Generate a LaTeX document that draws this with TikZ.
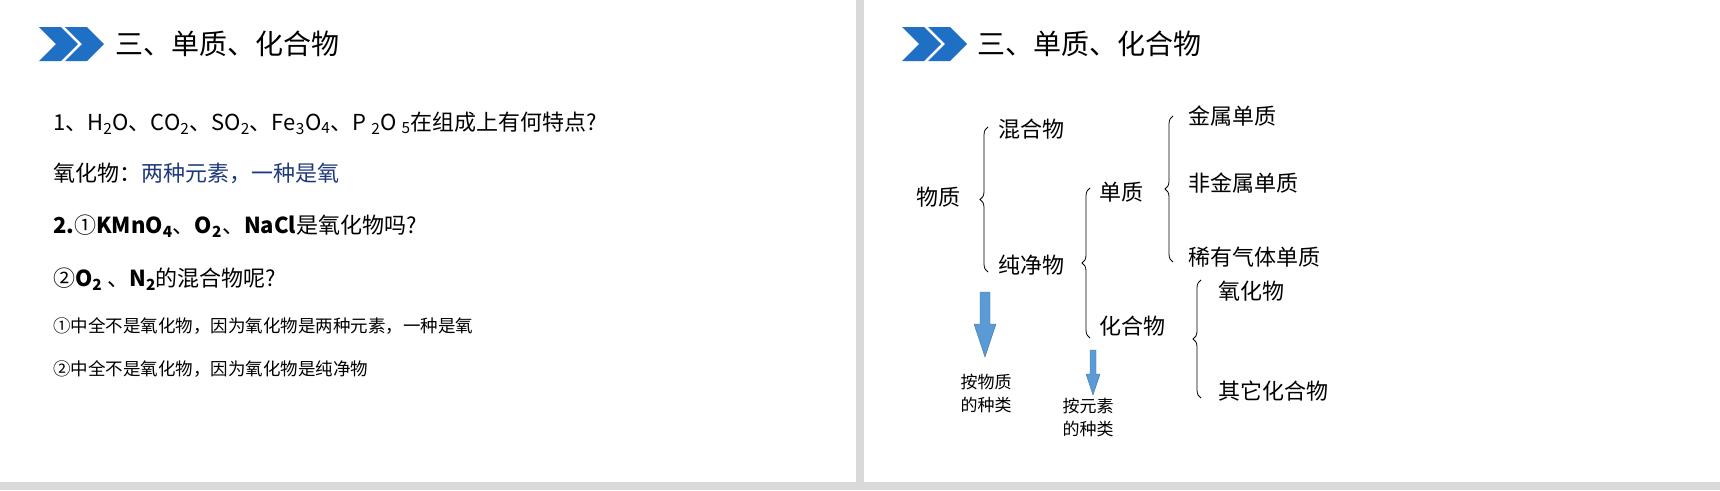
\documentclass[tikz,border=0pt]{standalone}
\usepackage{fontspec}
\setmainfont{Noto Sans CJK SC}
\usetikzlibrary{decorations.pathreplacing}
\definecolor{chev}{HTML}{1F6FC5}
\definecolor{arr}{HTML}{5B9BD5}
\definecolor{arrd}{HTML}{41719C}
\definecolor{navy}{HTML}{1F3A7A}
\tikzset{
 t/.style={anchor=west,inner sep=0pt,font=\fontsize{22}{24}\selectfont},
 ts/.style={anchor=west,inner sep=0pt,font=\fontsize{17.5}{19}\selectfont},
 ttl/.style={anchor=west,inner sep=0pt,font=\fontsize{28}{30}\selectfont},
 lab/.style={align=center,inner sep=0pt,font=\fontsize{17}{23}\selectfont},
 br/.style={draw,thick,decorate,decoration={brace,amplitude=8pt}},
 bar/.style={fill=arr,draw=arrd,thin}
}
\newcommand{\chevs}[2]{%
 \fill[chev] (#1,#2) -- ++(22,0) -- ++(17,17) -- ++(-17,17) -- ++(-22,0) -- ++(17,-17) -- cycle;
 \fill[chev] (#1+26,#2) -- ++(22,0) -- ++(17,17) -- ++(-17,17) -- ++(-22,0) -- ++(17,-17) -- cycle;}
\begin{document}
\begin{tikzpicture}[x=1pt,y=-1pt]
\fill[gray!30] (0,0) rectangle (1720,490);
\fill[white] (0,0) rectangle (856,482);
\fill[white] (864,0) rectangle (1720,482);
\useasboundingbox (0,0) rectangle (1720,490);
% left panel
\chevs{39}{27}
\node[ttl] (t1) at (115,44) {三、单质、化合物};
\node[t] (l1) at (53,123) {1、H\textsubscript{2}O、CO\textsubscript{2}、SO\textsubscript{2}、Fe\textsubscript{3}O\textsubscript{4}、P \textsubscript{2}O \textsubscript{5}在组成上有何特点?};
\node[t] (l2) at (53,173) {氧化物：\textcolor{navy}{两种元素，一种是氧}};
\node[t] (l3) at (53,226) {\textbf{2.}①\textbf{KMnO\textsubscript{4}}、\textbf{O\textsubscript{2}}、\textbf{NaCl}是氧化物吗?};
\node[t] (l4) at (53,279) {②\textbf{O\textsubscript{2}} 、\textbf{N\textsubscript{2}}的混合物呢?};
\node[ts] (l5) at (53,326) {①中全不是氧化物，因为氧化物是两种元素，一种是氧};
\node[ts] (l6) at (53,369) {②中全不是氧化物，因为氧化物是纯净物};
% right panel
\chevs{902}{27}
\node[ttl] (t2) at (977,44) {三、单质、化合物};
\node[t] (wz) at (916,197) {物质};
\node[t] (hh) at (998,129) {混合物};
\node[t] (cj) at (998,265) {纯净物};
\node[t] (dz) at (1099,192) {单质};
\node[t] (hw) at (1099,326) {化合物};
\node[t] (js) at (1188,116) {金属单质};
\node[t] (fj) at (1188,183) {非金属单质};
\node[t] (xy) at (1188,257) {稀有气体单质};
\node[t] (yh) at (1218,291) {氧化物};
\node[t] (qt) at (1218,391) {其它化合物};
\coordinate (b1a) at (988,272); \coordinate (b1b) at (988,127);
\coordinate (b2a) at (1090,338); \coordinate (b2b) at (1090,188);
\coordinate (b3a) at (1173,262); \coordinate (b3b) at (1173,116);
\coordinate (b4a) at (1201,398); \coordinate (b4b) at (1201,280);
\draw[br] (b1a) -- (b1b);
\draw[br] (b2a) -- (b2b);
\draw[br] (b3a) -- (b3b);
\draw[br] (b4a) -- (b4b);
\draw[bar] (980,292) -- (990,292) -- (990,324) -- (996,324) -- (985,357) -- (974,324) -- (980,324) -- cycle;
\draw[bar] (1090,350) -- (1096,350) -- (1096,374) -- (1100,374) -- (1093,395) -- (1086,374) -- (1090,374) -- cycle;
\node[lab] (k1) at (986,393) {按物质\\的种类};
\node[lab] (k2) at (1088,417) {按元素\\的种类};
\end{tikzpicture}
\end{document}
